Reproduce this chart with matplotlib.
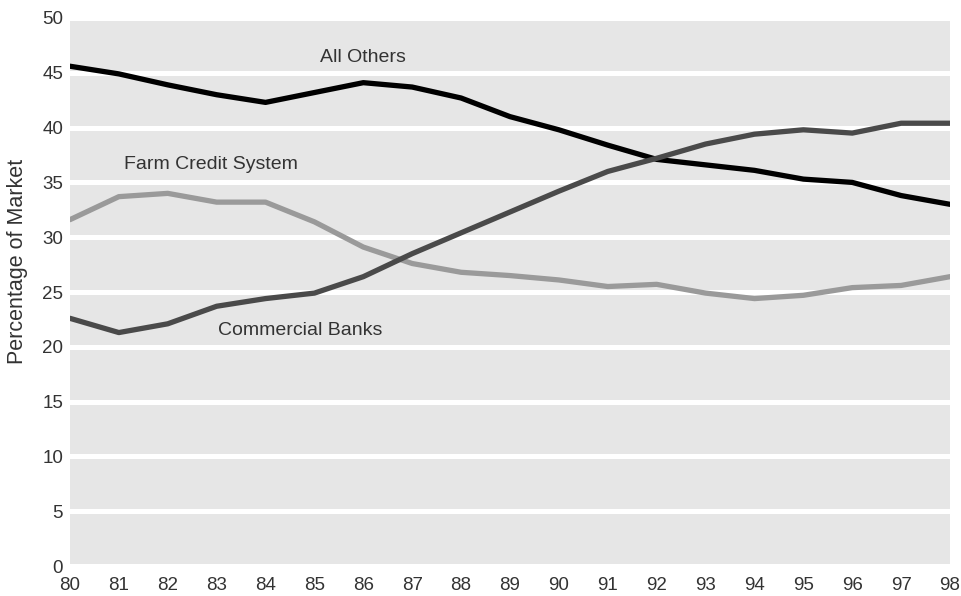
"""Market share of farm lending, 1980-98: All Others vs Farm Credit System vs Commercial Banks."""

import matplotlib

matplotlib.use("Agg")
import matplotlib.pyplot as plt

plt.rcParams["font.family"] = ["Liberation Sans", "DejaVu Sans"]

# Data (percentage of market)
YEARS = list(range(80, 99))
YEAR_LABELS = [str(y) for y in YEARS]
ALL_OTHERS = [45.6, 44.9, 43.9, 43.0, 42.3, 43.2, 44.1, 43.7, 42.7, 41.0, 39.8,
              38.4, 37.1, 36.6, 36.1, 35.3, 35.0, 33.8, 33.0]
FARM_CREDIT = [31.6, 33.7, 34.0, 33.2, 33.2, 31.4, 29.1, 27.6, 26.8, 26.5, 26.1,
               25.5, 25.7, 24.9, 24.4, 24.7, 25.4, 25.6, 26.4]
COMMERCIAL_BANKS = [22.6, 21.3, 22.1, 23.7, 24.4, 24.9, 26.4, 28.5, 30.4, 32.3, 34.2,
                    36.0, 37.2, 38.5, 39.4, 39.8, 39.5, 40.4, 40.4]
Y_TICKS = list(range(0, 51, 5))

TEXT_COLOR = "#333333"

fig = plt.figure(figsize=(9.61, 5.96), dpi=100)
ax = fig.add_axes([0.0728, 0.0503, 0.9158, 0.9195])

ax.set_facecolor("#e6e6e6")
for spine in ax.spines.values():
    spine.set_visible(False)

ax.set_axisbelow(True)
ax.yaxis.grid(True, color="white", linewidth=3.6)
ax.xaxis.grid(False)

ax.plot(YEARS, ALL_OTHERS, color="#000000", linewidth=3.8, solid_capstyle="round")
ax.plot(YEARS, FARM_CREDIT, color="#9a9a9a", linewidth=3.8, solid_capstyle="round")
ax.plot(YEARS, COMMERCIAL_BANKS, color="#4a4a4a", linewidth=3.8, solid_capstyle="round")

ax.text(86.0, 46.4, "All Others", ha="center", va="center", fontsize=14, color=TEXT_COLOR)
ax.text(82.88, 36.6, "Farm Credit System", ha="center", va="center", fontsize=14, color=TEXT_COLOR)
ax.text(84.7, 21.5, "Commercial Banks", ha="center", va="center", fontsize=14, color=TEXT_COLOR)

ax.set_xlim(80, 98)
ax.set_ylim(0, 50)
ax.set_xticks(YEARS)
ax.set_xticklabels(YEAR_LABELS)
ax.set_yticks(Y_TICKS)
ax.tick_params(axis="both", length=0, labelsize=13.5, labelcolor=TEXT_COLOR)
ax.tick_params(axis="y", pad=5)
ax.tick_params(axis="x", pad=8)
ax.set_ylabel("Percentage of Market", fontsize=15.5, color=TEXT_COLOR)
ax.yaxis.set_label_coords(-0.048, 0.555)

fig.savefig("out.png", dpi=100)
